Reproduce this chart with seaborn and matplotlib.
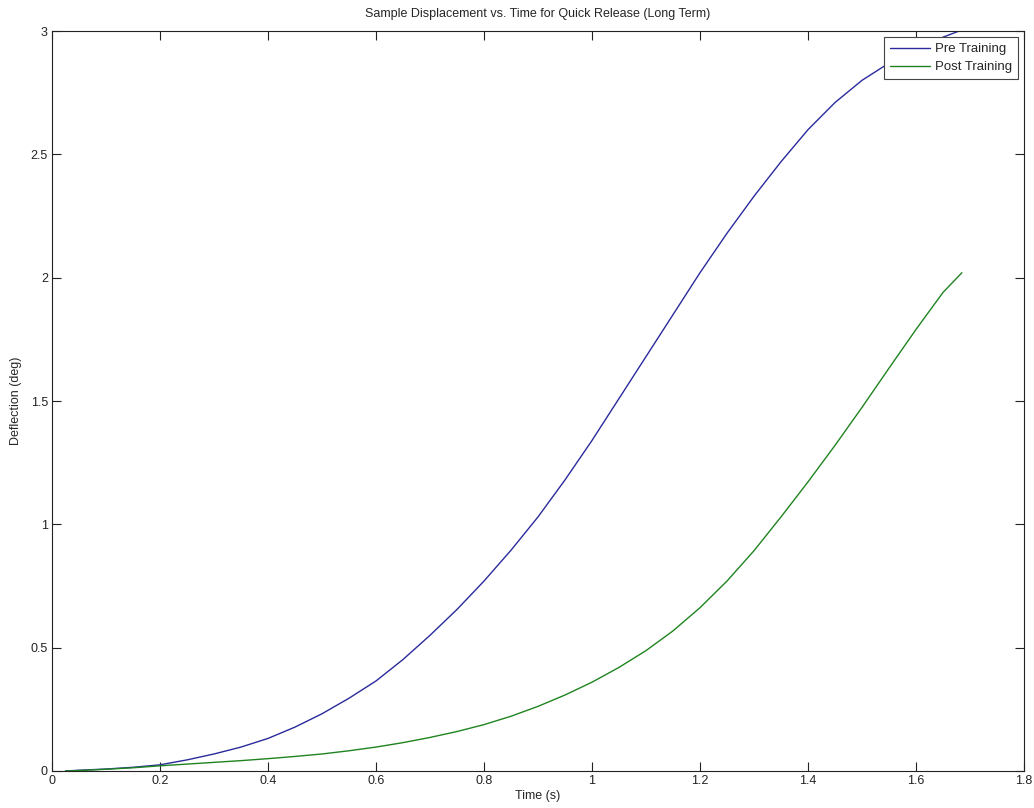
"""Sample displacement vs. time for quick release (long term)."""

import matplotlib
matplotlib.use("Agg")
import matplotlib.pyplot as plt
import matplotlib.ticker as mticker
import seaborn as sns
import pandas as pd
import numpy as np

# Data
pre_time = [0.025, 0.05, 0.1, 0.15, 0.2, 0.25, 0.3, 0.35, 0.4, 0.45, 0.5, 0.55,
            0.6, 0.65, 0.7, 0.75, 0.8, 0.85, 0.9, 0.95, 1.0, 1.05, 1.1, 1.15,
            1.2, 1.25, 1.3, 1.35, 1.4, 1.45, 1.5, 1.55, 1.6, 1.65, 1.68]
pre_defl = [0.0, 0.003, 0.008, 0.015, 0.025, 0.045, 0.069, 0.097, 0.132, 0.178,
            0.232, 0.295, 0.365, 0.452, 0.55, 0.655, 0.77, 0.895, 1.03, 1.18,
            1.34, 1.51, 1.68, 1.85, 2.02, 2.18, 2.33, 2.47, 2.60, 2.71, 2.80,
            2.87, 2.93, 2.975, 3.0]

post_time = [0.025, 0.05, 0.1, 0.15, 0.2, 0.25, 0.3, 0.35, 0.4, 0.45, 0.5, 0.55,
             0.6, 0.65, 0.7, 0.75, 0.8, 0.85, 0.9, 0.95, 1.0, 1.05, 1.1, 1.15,
             1.2, 1.25, 1.3, 1.35, 1.4, 1.45, 1.5, 1.55, 1.6, 1.65, 1.685]
post_defl = [0.0, 0.002, 0.007, 0.013, 0.021, 0.028, 0.035, 0.042, 0.05, 0.059,
             0.069, 0.082, 0.097, 0.115, 0.136, 0.16, 0.188, 0.222, 0.262, 0.308,
             0.36, 0.42, 0.488, 0.568, 0.662, 0.77, 0.893, 1.03, 1.172, 1.32,
             1.474, 1.633, 1.79, 1.94, 2.02]

conditions = ["Pre Training", "Post Training"]
colors = {"Pre Training": "#2a2a9c", "Post Training": "#1f841f"}

df = pd.concat([
    pd.DataFrame({"Time": pre_time, "Deflection": pre_defl, "Condition": conditions[0]}),
    pd.DataFrame({"Time": post_time, "Deflection": post_defl, "Condition": conditions[1]}),
])

sns.set_theme(style="white")
plt.rcParams.update({
    "font.family": ["Liberation Sans", "DejaVu Sans"],
    "font.size": 9,
    "xtick.direction": "in",
    "ytick.direction": "in",
    "xtick.bottom": True,
    "ytick.left": True,
    "xtick.top": True,
    "ytick.right": True,
    "xtick.major.size": 6.5,
    "ytick.major.size": 6.5,
    "xtick.major.width": 0.8,
    "ytick.major.width": 0.8,
    "axes.edgecolor": "#222222",
    "axes.linewidth": 0.8,
})

fig = plt.figure(figsize=(10.34, 8.08), dpi=100)
ax = fig.add_axes([0.0503, 0.0458, 0.9400, 0.9158])

sns.lineplot(data=df, x="Time", y="Deflection", hue="Condition",
             hue_order=conditions, palette=colors, linewidth=1.0,
             sort=False, ax=ax)

ax.set_xlim(0, 1.8)
ax.set_ylim(0, 3)
ax.set_xticks(np.arange(0, 1.81, 0.2))
ax.set_yticks(np.arange(0, 3.01, 0.5))
fmt = mticker.FuncFormatter(lambda v, _: f"{v:g}")
ax.xaxis.set_major_formatter(fmt)
ax.yaxis.set_major_formatter(fmt)
ax.tick_params(labelsize=9, colors="#222222", pad=3)

ax.set_xlabel("Time (s)", fontsize=9, labelpad=2)
ax.set_ylabel("Deflection (deg)", fontsize=9, labelpad=6)
ax.set_title("Sample Displacement vs. Time for Quick Release (Long Term)",
             fontsize=9, pad=10)

leg = ax.legend(loc="upper right", bbox_to_anchor=(0.994, 0.992),
                fontsize=9.5, frameon=True, fancybox=False, framealpha=1,
                edgecolor="#444444", handlelength=3.0, handletextpad=0.4,
                borderpad=0.45, labelspacing=0.45, borderaxespad=0)
leg.get_frame().set_linewidth(0.8)

fig.savefig("out.png", dpi=100)
plt.close(fig)
